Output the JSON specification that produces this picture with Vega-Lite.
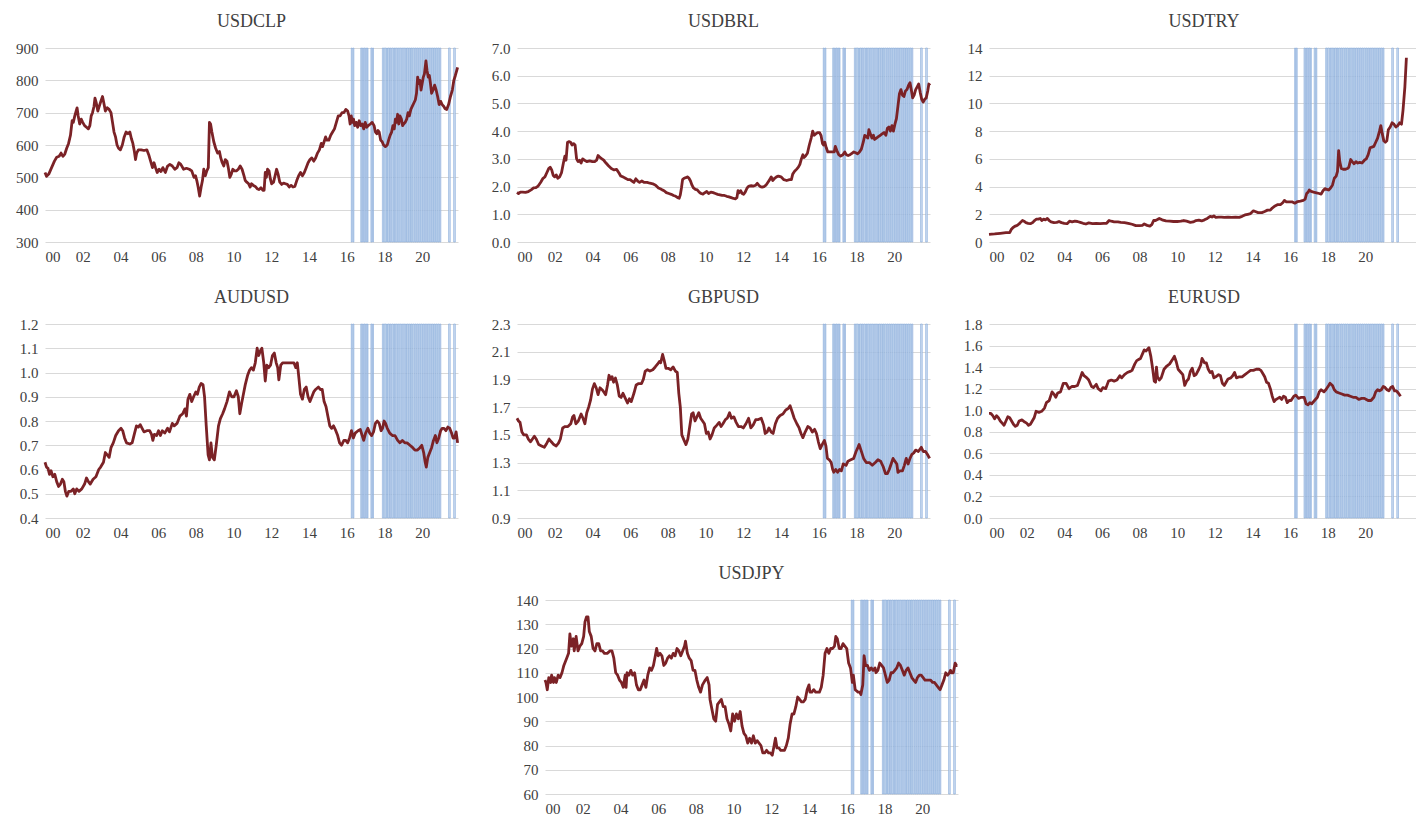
{
"$schema": "https://vega.github.io/schema/vega-lite/v6.json",
"padding": {"left": 15, "top": 13, "right": 0, "bottom": 0},
"background": "white",
"config": {
  "view": {"stroke": null},
  "font": "Liberation Serif",
  "title": {"font": "Liberation Serif", "fontSize": 18, "fontWeight": "normal", "color": "#404040", "offset": 10, "anchor": "middle"},
  "axis": {"labelFont": "Liberation Serif", "labelFontSize": 15, "labelColor": "#404040", "domain": false, "ticks": false},
  "axisY": {"gridColor": "#d9d9d9", "gridWidth": 1, "labelPadding": 7, "minExtent": 30, "maxExtent": 30},
  "axisX": {"grid": false, "labelPadding": 7},
  "rect": {"fill": "#c8d9ef", "fillOpacity": 0.9, "stroke": "#84a9da", "strokeWidth": 0.6},
  "line": {"color": "#7b2226", "strokeWidth": 2.8, "strokeJoin": "round"}
},
"datasets": {
  "shade": [
    {"a":2016.24,"b":2016.29},{"a":2016.33,"b":2016.38},
    {"a":2016.74,"b":2016.80},{"a":2016.83,"b":2016.88},{"a":2016.91,"b":2016.97},{"a":2017.00,"b":2017.06},{"a":2017.09,"b":2017.13},
    {"a":2017.28,"b":2017.34},{"a":2017.37,"b":2017.42},
    {"a":2017.89,"b":2017.96},{"a":2017.99,"b":2018.08},{"a":2018.11,"b":2018.16},{"a":2018.19,"b":2018.27},{"a":2018.30,"b":2018.36},{"a":2018.39,"b":2018.47},{"a":2018.50,"b":2018.55},{"a":2018.58,"b":2018.66},{"a":2018.69,"b":2018.76},{"a":2018.79,"b":2018.87},{"a":2018.90,"b":2018.97},{"a":2019.00,"b":2019.08},{"a":2019.11,"b":2019.17},{"a":2019.20,"b":2019.28},{"a":2019.31,"b":2019.38},{"a":2019.41,"b":2019.47},{"a":2019.50,"b":2019.58},{"a":2019.61,"b":2019.68},{"a":2019.71,"b":2019.78},{"a":2019.81,"b":2019.88},{"a":2019.91,"b":2019.99},{"a":2020.02,"b":2020.09},{"a":2020.12,"b":2020.19},{"a":2020.22,"b":2020.29},{"a":2020.32,"b":2020.40},{"a":2020.43,"b":2020.50},{"a":2020.53,"b":2020.60},{"a":2020.63,"b":2020.70},{"a":2020.73,"b":2020.80},{"a":2020.83,"b":2020.90},{"a":2020.93,"b":2020.99},
    {"a":2021.40,"b":2021.49},{"a":2021.67,"b":2021.76}
  ],
  "clp": [
    {"t":2000.0,"v":515},{"t":2000.08,"v":503},{"t":2000.2,"v":510},{"t":2000.35,"v":530},{"t":2000.5,"v":550},{"t":2000.62,"v":562},{"t":2000.75,"v":565},{"t":2000.85,"v":575},{"t":2000.95,"v":565},{"t":2001.05,"v":572},{"t":2001.15,"v":590},{"t":2001.25,"v":605},{"t":2001.35,"v":630},{"t":2001.44,"v":675},{"t":2001.5,"v":670},{"t":2001.58,"v":690},{"t":2001.65,"v":705},{"t":2001.7,"v":715},{"t":2001.76,"v":690},{"t":2001.84,"v":665},{"t":2001.92,"v":680},{"t":2002.0,"v":670},{"t":2002.1,"v":660},{"t":2002.2,"v":655},{"t":2002.3,"v":650},{"t":2002.38,"v":660},{"t":2002.45,"v":690},{"t":2002.52,"v":700},{"t":2002.6,"v":720},{"t":2002.65,"v":745},{"t":2002.72,"v":730},{"t":2002.8,"v":705},{"t":2002.88,"v":720},{"t":2002.96,"v":735},{"t":2003.05,"v":750},{"t":2003.12,"v":730},{"t":2003.2,"v":705},{"t":2003.3,"v":715},{"t":2003.4,"v":710},{"t":2003.5,"v":700},{"t":2003.58,"v":670},{"t":2003.66,"v":640},{"t":2003.74,"v":625},{"t":2003.82,"v":600},{"t":2003.9,"v":590},{"t":2004.0,"v":585},{"t":2004.1,"v":600},{"t":2004.2,"v":625},{"t":2004.3,"v":640},{"t":2004.4,"v":635},{"t":2004.5,"v":640},{"t":2004.58,"v":620},{"t":2004.66,"v":605},{"t":2004.74,"v":580},{"t":2004.8,"v":555},{"t":2004.86,"v":575},{"t":2004.95,"v":585},{"t":2005.1,"v":585},{"t":2005.25,"v":583},{"t":2005.4,"v":585},{"t":2005.5,"v":570},{"t":2005.6,"v":550},{"t":2005.7,"v":530},{"t":2005.78,"v":545},{"t":2005.86,"v":530},{"t":2005.95,"v":515},{"t":2006.05,"v":525},{"t":2006.15,"v":518},{"t":2006.25,"v":530},{"t":2006.38,"v":515},{"t":2006.5,"v":535},{"t":2006.62,"v":540},{"t":2006.75,"v":535},{"t":2006.88,"v":525},{"t":2007.0,"v":530},{"t":2007.1,"v":545},{"t":2007.2,"v":540},{"t":2007.35,"v":525},{"t":2007.5,"v":528},{"t":2007.65,"v":525},{"t":2007.78,"v":520},{"t":2007.9,"v":500},{"t":2007.98,"v":505},{"t":2008.05,"v":490},{"t":2008.12,"v":470},{"t":2008.2,"v":442},{"t":2008.28,"v":470},{"t":2008.35,"v":490},{"t":2008.42,"v":525},{"t":2008.5,"v":505},{"t":2008.58,"v":520},{"t":2008.66,"v":530},{"t":2008.72,"v":670},{"t":2008.78,"v":665},{"t":2008.85,"v":640},{"t":2008.95,"v":610},{"t":2009.05,"v":590},{"t":2009.15,"v":575},{"t":2009.25,"v":580},{"t":2009.32,"v":560},{"t":2009.4,"v":545},{"t":2009.48,"v":535},{"t":2009.56,"v":555},{"t":2009.65,"v":550},{"t":2009.72,"v":530},{"t":2009.8,"v":500},{"t":2009.88,"v":510},{"t":2009.96,"v":525},{"t":2010.05,"v":520},{"t":2010.15,"v":520},{"t":2010.25,"v":525},{"t":2010.35,"v":535},{"t":2010.45,"v":525},{"t":2010.55,"v":505},{"t":2010.62,"v":490},{"t":2010.7,"v":485},{"t":2010.8,"v":480},{"t":2010.88,"v":470},{"t":2010.95,"v":480},{"t":2011.05,"v":475},{"t":2011.15,"v":472},{"t":2011.25,"v":465},{"t":2011.35,"v":462},{"t":2011.45,"v":468},{"t":2011.55,"v":460},{"t":2011.62,"v":460},{"t":2011.68,"v":515},{"t":2011.74,"v":500},{"t":2011.8,"v":525},{"t":2011.88,"v":520},{"t":2011.95,"v":495},{"t":2012.02,"v":480},{"t":2012.12,"v":485},{"t":2012.2,"v":505},{"t":2012.28,"v":525},{"t":2012.36,"v":510},{"t":2012.45,"v":485},{"t":2012.55,"v":478},{"t":2012.65,"v":482},{"t":2012.75,"v":480},{"t":2012.85,"v":478},{"t":2012.95,"v":470},{"t":2013.05,"v":475},{"t":2013.15,"v":470},{"t":2013.25,"v":472},{"t":2013.35,"v":490},{"t":2013.45,"v":505},{"t":2013.55,"v":515},{"t":2013.65,"v":505},{"t":2013.75,"v":515},{"t":2013.85,"v":530},{"t":2013.95,"v":545},{"t":2014.05,"v":555},{"t":2014.15,"v":560},{"t":2014.25,"v":550},{"t":2014.35,"v":560},{"t":2014.45,"v":575},{"t":2014.55,"v":585},{"t":2014.65,"v":605},{"t":2014.72,"v":595},{"t":2014.8,"v":610},{"t":2014.88,"v":625},{"t":2014.95,"v":615},{"t":2015.05,"v":615},{"t":2015.15,"v":630},{"t":2015.25,"v":640},{"t":2015.35,"v":650},{"t":2015.45,"v":670},{"t":2015.55,"v":690},{"t":2015.65,"v":690},{"t":2015.75,"v":700},{"t":2015.85,"v":700},{"t":2015.95,"v":710},{"t":2016.05,"v":705},{"t":2016.12,"v":690},{"t":2016.18,"v":665},{"t":2016.24,"v":690},{"t":2016.3,"v":670},{"t":2016.36,"v":680},{"t":2016.42,"v":660},{"t":2016.5,"v":670},{"t":2016.58,"v":655},{"t":2016.66,"v":675},{"t":2016.74,"v":660},{"t":2016.82,"v":665},{"t":2016.9,"v":650},{"t":2016.98,"v":670},{"t":2017.06,"v":655},{"t":2017.14,"v":660},{"t":2017.25,"v":665},{"t":2017.35,"v":670},{"t":2017.45,"v":660},{"t":2017.52,"v":640},{"t":2017.6,"v":635},{"t":2017.66,"v":645},{"t":2017.72,"v":640},{"t":2017.8,"v":615},{"t":2017.88,"v":610},{"t":2017.95,"v":600},{"t":2018.05,"v":595},{"t":2018.15,"v":600},{"t":2018.22,"v":615},{"t":2018.3,"v":630},{"t":2018.38,"v":640},{"t":2018.45,"v":660},{"t":2018.52,"v":650},{"t":2018.58,"v":680},{"t":2018.64,"v":670},{"t":2018.7,"v":695},{"t":2018.76,"v":665},{"t":2018.82,"v":690},{"t":2018.9,"v":680},{"t":2018.96,"v":660},{"t":2019.02,"v":665},{"t":2019.1,"v":670},{"t":2019.18,"v":680},{"t":2019.25,"v":700},{"t":2019.32,"v":690},{"t":2019.4,"v":710},{"t":2019.48,"v":720},{"t":2019.56,"v":730},{"t":2019.64,"v":740},{"t":2019.7,"v":760},{"t":2019.76,"v":810},{"t":2019.82,"v":790},{"t":2019.88,"v":800},{"t":2019.94,"v":770},{"t":2020.0,"v":790},{"t":2020.06,"v":810},{"t":2020.12,"v":820},{"t":2020.2,"v":860},{"t":2020.26,"v":830},{"t":2020.32,"v":810},{"t":2020.38,"v":815},{"t":2020.44,"v":790},{"t":2020.5,"v":760},{"t":2020.58,"v":770},{"t":2020.66,"v":785},{"t":2020.74,"v":770},{"t":2020.82,"v":750},{"t":2020.9,"v":725},{"t":2020.98,"v":735},{"t":2021.06,"v":725},{"t":2021.14,"v":720},{"t":2021.22,"v":712},{"t":2021.3,"v":710},{"t":2021.4,"v":725},{"t":2021.5,"v":750},{"t":2021.6,"v":770},{"t":2021.68,"v":800},{"t":2021.76,"v":815},{"t":2021.88,"v":840}
  ],
  "brl": [
    {"t":2000.0,"v":1.79},{"t":2000.08,"v":1.75},{"t":2000.18,"v":1.8},{"t":2000.3,"v":1.8},{"t":2000.45,"v":1.79},{"t":2000.6,"v":1.82},{"t":2000.75,"v":1.88},{"t":2000.88,"v":1.95},{"t":2001.0,"v":1.96},{"t":2001.12,"v":2.02},{"t":2001.25,"v":2.15},{"t":2001.38,"v":2.3},{"t":2001.48,"v":2.35},{"t":2001.58,"v":2.5},{"t":2001.68,"v":2.65},{"t":2001.76,"v":2.7},{"t":2001.84,"v":2.6},{"t":2001.92,"v":2.4},{"t":2002.0,"v":2.35},{"t":2002.08,"v":2.42},{"t":2002.16,"v":2.3},{"t":2002.26,"v":2.35},{"t":2002.36,"v":2.5},{"t":2002.46,"v":2.85},{"t":2002.54,"v":3.1},{"t":2002.6,"v":2.95},{"t":2002.68,"v":3.6},{"t":2002.76,"v":3.62},{"t":2002.84,"v":3.6},{"t":2002.92,"v":3.5},{"t":2003.0,"v":3.55},{"t":2003.08,"v":3.5},{"t":2003.16,"v":3.0},{"t":2003.24,"v":2.9},{"t":2003.32,"v":2.95},{"t":2003.4,"v":2.85},{"t":2003.48,"v":3.0},{"t":2003.58,"v":2.95},{"t":2003.7,"v":2.9},{"t":2003.85,"v":2.93},{"t":2004.0,"v":2.9},{"t":2004.12,"v":2.9},{"t":2004.22,"v":2.95},{"t":2004.3,"v":3.12},{"t":2004.4,"v":3.05},{"t":2004.5,"v":3.0},{"t":2004.6,"v":2.95},{"t":2004.72,"v":2.85},{"t":2004.85,"v":2.75},{"t":2005.0,"v":2.65},{"t":2005.15,"v":2.6},{"t":2005.28,"v":2.62},{"t":2005.4,"v":2.5},{"t":2005.5,"v":2.38},{"t":2005.62,"v":2.35},{"t":2005.75,"v":2.3},{"t":2005.88,"v":2.25},{"t":2006.0,"v":2.25},{"t":2006.1,"v":2.2},{"t":2006.2,"v":2.15},{"t":2006.3,"v":2.28},{"t":2006.4,"v":2.2},{"t":2006.5,"v":2.15},{"t":2006.62,"v":2.2},{"t":2006.75,"v":2.15},{"t":2006.9,"v":2.15},{"t":2007.05,"v":2.12},{"t":2007.2,"v":2.1},{"t":2007.35,"v":2.05},{"t":2007.5,"v":1.95},{"t":2007.6,"v":1.92},{"t":2007.7,"v":1.88},{"t":2007.8,"v":1.85},{"t":2007.92,"v":1.78},{"t":2008.05,"v":1.75},{"t":2008.18,"v":1.72},{"t":2008.3,"v":1.68},{"t":2008.42,"v":1.65},{"t":2008.52,"v":1.6},{"t":2008.6,"v":1.58},{"t":2008.66,"v":1.7},{"t":2008.72,"v":1.95},{"t":2008.78,"v":2.25},{"t":2008.86,"v":2.3},{"t":2008.95,"v":2.32},{"t":2009.05,"v":2.35},{"t":2009.12,"v":2.3},{"t":2009.2,"v":2.2},{"t":2009.28,"v":2.05},{"t":2009.36,"v":1.95},{"t":2009.46,"v":1.9},{"t":2009.56,"v":1.88},{"t":2009.66,"v":1.8},{"t":2009.76,"v":1.75},{"t":2009.86,"v":1.73},{"t":2009.96,"v":1.78},{"t":2010.06,"v":1.82},{"t":2010.16,"v":1.75},{"t":2010.28,"v":1.8},{"t":2010.4,"v":1.78},{"t":2010.52,"v":1.75},{"t":2010.64,"v":1.72},{"t":2010.76,"v":1.7},{"t":2010.88,"v":1.68},{"t":2011.0,"v":1.68},{"t":2011.12,"v":1.65},{"t":2011.24,"v":1.63},{"t":2011.36,"v":1.6},{"t":2011.48,"v":1.57},{"t":2011.58,"v":1.56},{"t":2011.66,"v":1.6},{"t":2011.72,"v":1.85},{"t":2011.78,"v":1.78},{"t":2011.86,"v":1.85},{"t":2011.94,"v":1.75},{"t":2012.02,"v":1.72},{"t":2012.1,"v":1.8},{"t":2012.2,"v":1.95},{"t":2012.3,"v":2.02},{"t":2012.42,"v":2.03},{"t":2012.55,"v":2.02},{"t":2012.66,"v":2.05},{"t":2012.74,"v":2.12},{"t":2012.82,"v":2.05},{"t":2012.9,"v":2.0},{"t":2013.0,"v":1.98},{"t":2013.1,"v":2.0},{"t":2013.2,"v":2.05},{"t":2013.3,"v":2.15},{"t":2013.4,"v":2.25},{"t":2013.48,"v":2.35},{"t":2013.56,"v":2.22},{"t":2013.66,"v":2.3},{"t":2013.76,"v":2.35},{"t":2013.86,"v":2.38},{"t":2014.0,"v":2.35},{"t":2014.15,"v":2.25},{"t":2014.3,"v":2.22},{"t":2014.45,"v":2.25},{"t":2014.55,"v":2.25},{"t":2014.62,"v":2.45},{"t":2014.72,"v":2.55},{"t":2014.82,"v":2.62},{"t":2014.92,"v":2.7},{"t":2015.0,"v":2.8},{"t":2015.08,"v":3.0},{"t":2015.16,"v":3.15},{"t":2015.22,"v":3.05},{"t":2015.3,"v":3.1},{"t":2015.4,"v":3.2},{"t":2015.5,"v":3.5},{"t":2015.6,"v":3.75},{"t":2015.68,"v":4.0},{"t":2015.76,"v":3.85},{"t":2015.84,"v":3.9},{"t":2015.94,"v":3.95},{"t":2016.04,"v":3.95},{"t":2016.12,"v":3.85},{"t":2016.2,"v":3.55},{"t":2016.26,"v":3.5},{"t":2016.32,"v":3.6},{"t":2016.4,"v":3.4},{"t":2016.48,"v":3.25},{"t":2016.6,"v":3.25},{"t":2016.72,"v":3.25},{"t":2016.82,"v":3.25},{"t":2016.88,"v":3.45},{"t":2016.96,"v":3.3},{"t":2017.06,"v":3.15},{"t":2017.16,"v":3.1},{"t":2017.28,"v":3.15},{"t":2017.38,"v":3.25},{"t":2017.46,"v":3.15},{"t":2017.56,"v":3.12},{"t":2017.66,"v":3.15},{"t":2017.76,"v":3.2},{"t":2017.86,"v":3.25},{"t":2017.96,"v":3.22},{"t":2018.06,"v":3.18},{"t":2018.16,"v":3.25},{"t":2018.26,"v":3.35},{"t":2018.36,"v":3.6},{"t":2018.44,"v":3.85},{"t":2018.52,"v":3.8},{"t":2018.6,"v":3.75},{"t":2018.66,"v":4.05},{"t":2018.74,"v":3.9},{"t":2018.82,"v":3.75},{"t":2018.9,"v":3.85},{"t":2018.96,"v":3.7},{"t":2019.06,"v":3.75},{"t":2019.16,"v":3.8},{"t":2019.26,"v":3.85},{"t":2019.36,"v":3.9},{"t":2019.46,"v":3.95},{"t":2019.56,"v":3.85},{"t":2019.64,"v":4.1},{"t":2019.72,"v":4.15},{"t":2019.8,"v":4.0},{"t":2019.88,"v":4.2},{"t":2019.96,"v":4.0},{"t":2020.04,"v":4.25},{"t":2020.12,"v":4.45},{"t":2020.2,"v":4.9},{"t":2020.28,"v":5.35},{"t":2020.36,"v":5.5},{"t":2020.44,"v":5.3},{"t":2020.52,"v":5.25},{"t":2020.6,"v":5.45},{"t":2020.68,"v":5.5},{"t":2020.76,"v":5.65},{"t":2020.84,"v":5.75},{"t":2020.92,"v":5.45},{"t":2020.98,"v":5.2},{"t":2021.06,"v":5.3},{"t":2021.14,"v":5.5},{"t":2021.22,"v":5.6},{"t":2021.3,"v":5.7},{"t":2021.38,"v":5.4},{"t":2021.46,"v":5.15},{"t":2021.54,"v":5.05},{"t":2021.62,"v":5.15},{"t":2021.7,"v":5.2},{"t":2021.78,"v":5.45},{"t":2021.84,"v":5.7},{"t":2021.9,"v":5.65}
  ],
  "try": [
    {"t":2000.0,"v":0.55},{"t":2000.3,"v":0.58},{"t":2000.6,"v":0.63},{"t":2000.9,"v":0.67},{"t":2001.1,"v":0.68},{"t":2001.18,"v":0.9},{"t":2001.28,"v":1.05},{"t":2001.4,"v":1.15},{"t":2001.5,"v":1.2},{"t":2001.6,"v":1.3},{"t":2001.7,"v":1.45},{"t":2001.78,"v":1.55},{"t":2001.86,"v":1.5},{"t":2001.96,"v":1.4},{"t":2002.08,"v":1.35},{"t":2002.2,"v":1.32},{"t":2002.32,"v":1.4},{"t":2002.42,"v":1.55},{"t":2002.52,"v":1.65},{"t":2002.62,"v":1.65},{"t":2002.72,"v":1.7},{"t":2002.8,"v":1.55},{"t":2002.9,"v":1.65},{"t":2003.0,"v":1.6},{"t":2003.1,"v":1.7},{"t":2003.2,"v":1.55},{"t":2003.3,"v":1.45},{"t":2003.45,"v":1.4},{"t":2003.6,"v":1.42},{"t":2003.72,"v":1.48},{"t":2003.85,"v":1.4},{"t":2004.0,"v":1.35},{"t":2004.15,"v":1.32},{"t":2004.28,"v":1.5},{"t":2004.42,"v":1.45},{"t":2004.56,"v":1.5},{"t":2004.7,"v":1.48},{"t":2004.85,"v":1.42},{"t":2005.0,"v":1.35},{"t":2005.15,"v":1.3},{"t":2005.3,"v":1.38},{"t":2005.5,"v":1.33},{"t":2005.7,"v":1.35},{"t":2005.9,"v":1.33},{"t":2006.1,"v":1.35},{"t":2006.25,"v":1.35},{"t":2006.38,"v":1.55},{"t":2006.5,"v":1.5},{"t":2006.65,"v":1.45},{"t":2006.85,"v":1.45},{"t":2007.0,"v":1.42},{"t":2007.2,"v":1.4},{"t":2007.4,"v":1.35},{"t":2007.6,"v":1.28},{"t":2007.8,"v":1.18},{"t":2008.0,"v":1.18},{"t":2008.15,"v":1.2},{"t":2008.25,"v":1.3},{"t":2008.4,"v":1.2},{"t":2008.55,"v":1.15},{"t":2008.65,"v":1.25},{"t":2008.75,"v":1.55},{"t":2008.85,"v":1.55},{"t":2008.95,"v":1.62},{"t":2009.05,"v":1.7},{"t":2009.2,"v":1.6},{"t":2009.4,"v":1.52},{"t":2009.6,"v":1.5},{"t":2009.8,"v":1.48},{"t":2010.0,"v":1.48},{"t":2010.2,"v":1.5},{"t":2010.35,"v":1.55},{"t":2010.5,"v":1.5},{"t":2010.7,"v":1.42},{"t":2010.85,"v":1.45},{"t":2011.0,"v":1.55},{"t":2011.15,"v":1.58},{"t":2011.3,"v":1.52},{"t":2011.45,"v":1.6},{"t":2011.6,"v":1.7},{"t":2011.75,"v":1.85},{"t":2011.85,"v":1.8},{"t":2011.95,"v":1.88},{"t":2012.05,"v":1.78},{"t":2012.2,"v":1.8},{"t":2012.35,"v":1.8},{"t":2012.5,"v":1.78},{"t":2012.7,"v":1.8},{"t":2012.9,"v":1.78},{"t":2013.1,"v":1.8},{"t":2013.3,"v":1.78},{"t":2013.45,"v":1.85},{"t":2013.6,"v":1.95},{"t":2013.75,"v":2.0},{"t":2013.9,"v":2.05},{"t":2014.05,"v":2.25},{"t":2014.15,"v":2.2},{"t":2014.3,"v":2.12},{"t":2014.5,"v":2.12},{"t":2014.65,"v":2.2},{"t":2014.8,"v":2.3},{"t":2014.95,"v":2.3},{"t":2015.05,"v":2.45},{"t":2015.2,"v":2.6},{"t":2015.35,"v":2.7},{"t":2015.5,"v":2.7},{"t":2015.62,"v":2.85},{"t":2015.7,"v":3.0},{"t":2015.8,"v":2.9},{"t":2015.95,"v":2.9},{"t":2016.1,"v":2.9},{"t":2016.25,"v":2.8},{"t":2016.4,"v":2.92},{"t":2016.55,"v":2.95},{"t":2016.7,"v":3.0},{"t":2016.8,"v":3.1},{"t":2016.88,"v":3.5},{"t":2016.96,"v":3.6},{"t":2017.02,"v":3.75},{"t":2017.12,"v":3.65},{"t":2017.25,"v":3.6},{"t":2017.4,"v":3.55},{"t":2017.55,"v":3.5},{"t":2017.65,"v":3.45},{"t":2017.75,"v":3.7},{"t":2017.85,"v":3.85},{"t":2017.95,"v":3.8},{"t":2018.05,"v":3.75},{"t":2018.15,"v":3.9},{"t":2018.25,"v":4.1},{"t":2018.35,"v":4.6},{"t":2018.45,"v":4.75},{"t":2018.52,"v":5.1},{"t":2018.58,"v":6.6},{"t":2018.64,"v":5.8},{"t":2018.72,"v":5.3},{"t":2018.82,"v":5.25},{"t":2018.95,"v":5.25},{"t":2019.05,"v":5.3},{"t":2019.12,"v":5.4},{"t":2019.22,"v":5.95},{"t":2019.3,"v":5.8},{"t":2019.4,"v":5.65},{"t":2019.5,"v":5.8},{"t":2019.6,"v":5.7},{"t":2019.7,"v":5.75},{"t":2019.82,"v":5.7},{"t":2019.95,"v":5.9},{"t":2020.05,"v":6.0},{"t":2020.15,"v":6.3},{"t":2020.25,"v":6.8},{"t":2020.35,"v":6.85},{"t":2020.45,"v":6.9},{"t":2020.55,"v":7.2},{"t":2020.65,"v":7.5},{"t":2020.75,"v":8.0},{"t":2020.82,"v":8.4},{"t":2020.9,"v":7.8},{"t":2020.98,"v":7.3},{"t":2021.06,"v":7.2},{"t":2021.14,"v":7.3},{"t":2021.22,"v":8.1},{"t":2021.32,"v":8.3},{"t":2021.42,"v":8.6},{"t":2021.52,"v":8.5},{"t":2021.62,"v":8.3},{"t":2021.72,"v":8.4},{"t":2021.82,"v":8.6},{"t":2021.92,"v":8.5},{"t":2022.0,"v":9.5},{"t":2022.1,"v":11.2},{"t":2022.18,"v":13.3}
  ],
  "aud": [
    {"t":2000.0,"v":0.63},{"t":2000.08,"v":0.61},{"t":2000.16,"v":0.605},{"t":2000.24,"v":0.58},{"t":2000.32,"v":0.595},{"t":2000.42,"v":0.57},{"t":2000.52,"v":0.58},{"t":2000.62,"v":0.55},{"t":2000.72,"v":0.53},{"t":2000.82,"v":0.54},{"t":2000.92,"v":0.56},{"t":2001.0,"v":0.55},{"t":2001.08,"v":0.51},{"t":2001.16,"v":0.49},{"t":2001.26,"v":0.51},{"t":2001.38,"v":0.51},{"t":2001.5,"v":0.52},{"t":2001.58,"v":0.50},{"t":2001.68,"v":0.52},{"t":2001.8,"v":0.51},{"t":2001.95,"v":0.52},{"t":2002.1,"v":0.54},{"t":2002.2,"v":0.565},{"t":2002.3,"v":0.55},{"t":2002.4,"v":0.54},{"t":2002.55,"v":0.56},{"t":2002.7,"v":0.57},{"t":2002.85,"v":0.6},{"t":2002.95,"v":0.61},{"t":2003.1,"v":0.63},{"t":2003.2,"v":0.67},{"t":2003.3,"v":0.66},{"t":2003.4,"v":0.65},{"t":2003.5,"v":0.69},{"t":2003.62,"v":0.71},{"t":2003.75,"v":0.74},{"t":2003.9,"v":0.76},{"t":2004.03,"v":0.77},{"t":2004.12,"v":0.76},{"t":2004.22,"v":0.73},{"t":2004.32,"v":0.71},{"t":2004.5,"v":0.705},{"t":2004.62,"v":0.71},{"t":2004.75,"v":0.75},{"t":2004.85,"v":0.78},{"t":2004.95,"v":0.775},{"t":2005.05,"v":0.785},{"t":2005.15,"v":0.77},{"t":2005.25,"v":0.755},{"t":2005.4,"v":0.76},{"t":2005.55,"v":0.76},{"t":2005.65,"v":0.745},{"t":2005.72,"v":0.72},{"t":2005.8,"v":0.745},{"t":2005.92,"v":0.74},{"t":2006.02,"v":0.76},{"t":2006.12,"v":0.74},{"t":2006.22,"v":0.76},{"t":2006.35,"v":0.75},{"t":2006.5,"v":0.77},{"t":2006.6,"v":0.755},{"t":2006.75,"v":0.79},{"t":2006.85,"v":0.78},{"t":2007.0,"v":0.79},{"t":2007.15,"v":0.82},{"t":2007.3,"v":0.83},{"t":2007.42,"v":0.85},{"t":2007.5,"v":0.82},{"t":2007.58,"v":0.89},{"t":2007.68,"v":0.91},{"t":2007.78,"v":0.88},{"t":2007.88,"v":0.9},{"t":2008.0,"v":0.92},{"t":2008.08,"v":0.91},{"t":2008.18,"v":0.94},{"t":2008.28,"v":0.955},{"t":2008.38,"v":0.95},{"t":2008.46,"v":0.9},{"t":2008.55,"v":0.78},{"t":2008.65,"v":0.66},{"t":2008.72,"v":0.64},{"t":2008.8,"v":0.71},{"t":2008.88,"v":0.65},{"t":2008.98,"v":0.64},{"t":2009.08,"v":0.7},{"t":2009.2,"v":0.78},{"t":2009.3,"v":0.81},{"t":2009.42,"v":0.83},{"t":2009.52,"v":0.85},{"t":2009.65,"v":0.88},{"t":2009.78,"v":0.92},{"t":2009.9,"v":0.9},{"t":2010.02,"v":0.9},{"t":2010.15,"v":0.925},{"t":2010.25,"v":0.9},{"t":2010.33,"v":0.83},{"t":2010.42,"v":0.87},{"t":2010.52,"v":0.91},{"t":2010.62,"v":0.95},{"t":2010.75,"v":0.99},{"t":2010.85,"v":1.01},{"t":2010.95,"v":1.02},{"t":2011.05,"v":1.01},{"t":2011.15,"v":1.04},{"t":2011.25,"v":1.1},{"t":2011.33,"v":1.07},{"t":2011.42,"v":1.09},{"t":2011.5,"v":1.1},{"t":2011.6,"v":1.04},{"t":2011.68,"v":0.965},{"t":2011.76,"v":1.03},{"t":2011.86,"v":1.02},{"t":2011.96,"v":1.03},{"t":2012.06,"v":1.07},{"t":2012.16,"v":1.08},{"t":2012.26,"v":1.04},{"t":2012.34,"v":1.02},{"t":2012.4,"v":0.97},{"t":2012.5,"v":1.03},{"t":2012.6,"v":1.04},{"t":2012.75,"v":1.04},{"t":2012.9,"v":1.04},{"t":2013.05,"v":1.04},{"t":2013.2,"v":1.04},{"t":2013.3,"v":1.02},{"t":2013.38,"v":1.04},{"t":2013.46,"v":0.98},{"t":2013.55,"v":0.91},{"t":2013.65,"v":0.89},{"t":2013.75,"v":0.93},{"t":2013.85,"v":0.94},{"t":2013.95,"v":0.9},{"t":2014.05,"v":0.88},{"t":2014.15,"v":0.9},{"t":2014.25,"v":0.92},{"t":2014.35,"v":0.93},{"t":2014.5,"v":0.94},{"t":2014.6,"v":0.93},{"t":2014.7,"v":0.93},{"t":2014.8,"v":0.88},{"t":2014.9,"v":0.86},{"t":2015.0,"v":0.82},{"t":2015.1,"v":0.78},{"t":2015.2,"v":0.77},{"t":2015.3,"v":0.78},{"t":2015.42,"v":0.76},{"t":2015.52,"v":0.74},{"t":2015.62,"v":0.71},{"t":2015.72,"v":0.7},{"t":2015.85,"v":0.72},{"t":2015.95,"v":0.72},{"t":2016.05,"v":0.71},{"t":2016.15,"v":0.73},{"t":2016.25,"v":0.76},{"t":2016.35,"v":0.73},{"t":2016.45,"v":0.75},{"t":2016.6,"v":0.76},{"t":2016.72,"v":0.765},{"t":2016.82,"v":0.74},{"t":2016.9,"v":0.72},{"t":2017.0,"v":0.75},{"t":2017.12,"v":0.77},{"t":2017.22,"v":0.75},{"t":2017.32,"v":0.74},{"t":2017.42,"v":0.755},{"t":2017.52,"v":0.79},{"t":2017.62,"v":0.8},{"t":2017.72,"v":0.79},{"t":2017.82,"v":0.76},{"t":2017.9,"v":0.77},{"t":2017.98,"v":0.8},{"t":2018.06,"v":0.79},{"t":2018.15,"v":0.77},{"t":2018.28,"v":0.75},{"t":2018.42,"v":0.74},{"t":2018.56,"v":0.74},{"t":2018.7,"v":0.72},{"t":2018.82,"v":0.71},{"t":2018.95,"v":0.72},{"t":2019.08,"v":0.71},{"t":2019.2,"v":0.71},{"t":2019.35,"v":0.7},{"t":2019.5,"v":0.69},{"t":2019.62,"v":0.68},{"t":2019.75,"v":0.68},{"t":2019.88,"v":0.69},{"t":2019.98,"v":0.7},{"t":2020.08,"v":0.67},{"t":2020.16,"v":0.63},{"t":2020.22,"v":0.61},{"t":2020.3,"v":0.65},{"t":2020.4,"v":0.67},{"t":2020.5,"v":0.69},{"t":2020.6,"v":0.72},{"t":2020.7,"v":0.74},{"t":2020.78,"v":0.71},{"t":2020.88,"v":0.73},{"t":2020.98,"v":0.76},{"t":2021.06,"v":0.77},{"t":2021.16,"v":0.77},{"t":2021.26,"v":0.76},{"t":2021.36,"v":0.775},{"t":2021.46,"v":0.77},{"t":2021.56,"v":0.75},{"t":2021.64,"v":0.73},{"t":2021.72,"v":0.73},{"t":2021.8,"v":0.755},{"t":2021.88,"v":0.71}
  ],
  "gbp": [
    {"t":2000.0,"v":1.62},{"t":2000.08,"v":1.6},{"t":2000.16,"v":1.59},{"t":2000.26,"v":1.52},{"t":2000.36,"v":1.5},{"t":2000.5,"v":1.5},{"t":2000.6,"v":1.47},{"t":2000.72,"v":1.45},{"t":2000.82,"v":1.47},{"t":2000.92,"v":1.49},{"t":2001.02,"v":1.47},{"t":2001.15,"v":1.43},{"t":2001.3,"v":1.42},{"t":2001.45,"v":1.41},{"t":2001.58,"v":1.44},{"t":2001.7,"v":1.47},{"t":2001.82,"v":1.45},{"t":2001.95,"v":1.43},{"t":2002.08,"v":1.42},{"t":2002.2,"v":1.44},{"t":2002.3,"v":1.47},{"t":2002.42,"v":1.55},{"t":2002.55,"v":1.56},{"t":2002.7,"v":1.56},{"t":2002.85,"v":1.58},{"t":2002.95,"v":1.63},{"t":2003.02,"v":1.64},{"t":2003.12,"v":1.58},{"t":2003.25,"v":1.6},{"t":2003.4,"v":1.65},{"t":2003.5,"v":1.62},{"t":2003.6,"v":1.58},{"t":2003.7,"v":1.66},{"t":2003.8,"v":1.7},{"t":2003.9,"v":1.75},{"t":2004.0,"v":1.83},{"t":2004.1,"v":1.87},{"t":2004.2,"v":1.84},{"t":2004.3,"v":1.79},{"t":2004.4,"v":1.84},{"t":2004.55,"v":1.82},{"t":2004.7,"v":1.79},{"t":2004.8,"v":1.86},{"t":2004.88,"v":1.93},{"t":2004.96,"v":1.9},{"t":2005.04,"v":1.92},{"t":2005.12,"v":1.88},{"t":2005.22,"v":1.91},{"t":2005.32,"v":1.86},{"t":2005.42,"v":1.78},{"t":2005.52,"v":1.77},{"t":2005.62,"v":1.8},{"t":2005.72,"v":1.77},{"t":2005.86,"v":1.73},{"t":2005.96,"v":1.76},{"t":2006.06,"v":1.74},{"t":2006.2,"v":1.8},{"t":2006.32,"v":1.86},{"t":2006.45,"v":1.87},{"t":2006.6,"v":1.87},{"t":2006.7,"v":1.9},{"t":2006.8,"v":1.96},{"t":2006.92,"v":1.97},{"t":2007.05,"v":1.96},{"t":2007.2,"v":1.97},{"t":2007.33,"v":1.99},{"t":2007.45,"v":2.01},{"t":2007.55,"v":2.03},{"t":2007.62,"v":2.02},{"t":2007.72,"v":2.08},{"t":2007.8,"v":2.04},{"t":2007.9,"v":1.98},{"t":2008.02,"v":1.98},{"t":2008.15,"v":1.97},{"t":2008.28,"v":1.99},{"t":2008.4,"v":1.96},{"t":2008.5,"v":1.95},{"t":2008.58,"v":1.8},{"t":2008.66,"v":1.7},{"t":2008.74,"v":1.5},{"t":2008.86,"v":1.46},{"t":2008.96,"v":1.43},{"t":2009.06,"v":1.47},{"t":2009.16,"v":1.56},{"t":2009.26,"v":1.65},{"t":2009.34,"v":1.66},{"t":2009.44,"v":1.6},{"t":2009.54,"v":1.63},{"t":2009.64,"v":1.66},{"t":2009.74,"v":1.62},{"t":2009.84,"v":1.6},{"t":2009.94,"v":1.58},{"t":2010.04,"v":1.51},{"t":2010.14,"v":1.52},{"t":2010.24,"v":1.47},{"t":2010.34,"v":1.5},{"t":2010.46,"v":1.55},{"t":2010.6,"v":1.57},{"t":2010.72,"v":1.59},{"t":2010.82,"v":1.56},{"t":2010.92,"v":1.58},{"t":2011.05,"v":1.61},{"t":2011.15,"v":1.62},{"t":2011.27,"v":1.66},{"t":2011.37,"v":1.62},{"t":2011.5,"v":1.63},{"t":2011.62,"v":1.59},{"t":2011.74,"v":1.56},{"t":2011.88,"v":1.56},{"t":2012.0,"v":1.55},{"t":2012.14,"v":1.58},{"t":2012.28,"v":1.62},{"t":2012.4,"v":1.55},{"t":2012.52,"v":1.57},{"t":2012.66,"v":1.61},{"t":2012.8,"v":1.61},{"t":2012.95,"v":1.62},{"t":2013.08,"v":1.57},{"t":2013.16,"v":1.51},{"t":2013.26,"v":1.52},{"t":2013.36,"v":1.55},{"t":2013.48,"v":1.52},{"t":2013.58,"v":1.51},{"t":2013.7,"v":1.58},{"t":2013.82,"v":1.62},{"t":2013.95,"v":1.64},{"t":2014.1,"v":1.65},{"t":2014.25,"v":1.68},{"t":2014.38,"v":1.69},{"t":2014.48,"v":1.71},{"t":2014.58,"v":1.67},{"t":2014.7,"v":1.62},{"t":2014.84,"v":1.58},{"t":2014.96,"v":1.55},{"t":2015.06,"v":1.51},{"t":2015.16,"v":1.48},{"t":2015.28,"v":1.52},{"t":2015.42,"v":1.56},{"t":2015.54,"v":1.55},{"t":2015.66,"v":1.52},{"t":2015.78,"v":1.54},{"t":2015.88,"v":1.51},{"t":2015.98,"v":1.45},{"t":2016.08,"v":1.4},{"t":2016.18,"v":1.43},{"t":2016.3,"v":1.46},{"t":2016.38,"v":1.42},{"t":2016.46,"v":1.33},{"t":2016.56,"v":1.32},{"t":2016.66,"v":1.3},{"t":2016.74,"v":1.25},{"t":2016.8,"v":1.23},{"t":2016.9,"v":1.25},{"t":2017.0,"v":1.23},{"t":2017.1,"v":1.25},{"t":2017.2,"v":1.24},{"t":2017.3,"v":1.29},{"t":2017.45,"v":1.28},{"t":2017.55,"v":1.31},{"t":2017.7,"v":1.32},{"t":2017.85,"v":1.33},{"t":2017.98,"v":1.38},{"t":2018.08,"v":1.41},{"t":2018.14,"v":1.43},{"t":2018.24,"v":1.39},{"t":2018.38,"v":1.33},{"t":2018.52,"v":1.3},{"t":2018.68,"v":1.3},{"t":2018.84,"v":1.28},{"t":2019.0,"v":1.3},{"t":2019.14,"v":1.32},{"t":2019.28,"v":1.31},{"t":2019.42,"v":1.27},{"t":2019.54,"v":1.22},{"t":2019.64,"v":1.22},{"t":2019.74,"v":1.25},{"t":2019.84,"v":1.29},{"t":2019.94,"v":1.33},{"t":2020.04,"v":1.31},{"t":2020.14,"v":1.29},{"t":2020.2,"v":1.23},{"t":2020.3,"v":1.24},{"t":2020.44,"v":1.24},{"t":2020.54,"v":1.28},{"t":2020.64,"v":1.33},{"t":2020.74,"v":1.29},{"t":2020.84,"v":1.33},{"t":2020.94,"v":1.36},{"t":2021.04,"v":1.37},{"t":2021.14,"v":1.39},{"t":2021.28,"v":1.38},{"t":2021.44,"v":1.41},{"t":2021.54,"v":1.38},{"t":2021.66,"v":1.38},{"t":2021.76,"v":1.36},{"t":2021.88,"v":1.33}
  ],
  "eur": [
    {"t":2000.0,"v":0.97},{"t":2000.1,"v":0.97},{"t":2000.2,"v":0.95},{"t":2000.3,"v":0.92},{"t":2000.4,"v":0.95},{"t":2000.5,"v":0.93},{"t":2000.6,"v":0.9},{"t":2000.7,"v":0.88},{"t":2000.8,"v":0.86},{"t":2000.9,"v":0.9},{"t":2001.0,"v":0.94},{"t":2001.1,"v":0.93},{"t":2001.2,"v":0.9},{"t":2001.3,"v":0.87},{"t":2001.4,"v":0.85},{"t":2001.5,"v":0.86},{"t":2001.6,"v":0.9},{"t":2001.75,"v":0.91},{"t":2001.9,"v":0.89},{"t":2002.0,"v":0.88},{"t":2002.1,"v":0.86},{"t":2002.2,"v":0.87},{"t":2002.3,"v":0.9},{"t":2002.4,"v":0.93},{"t":2002.5,"v":0.99},{"t":2002.65,"v":0.98},{"t":2002.8,"v":0.99},{"t":2002.95,"v":1.02},{"t":2003.05,"v":1.07},{"t":2003.2,"v":1.09},{"t":2003.35,"v":1.17},{"t":2003.45,"v":1.15},{"t":2003.55,"v":1.12},{"t":2003.65,"v":1.16},{"t":2003.8,"v":1.17},{"t":2003.95,"v":1.25},{"t":2004.1,"v":1.25},{"t":2004.25,"v":1.2},{"t":2004.4,"v":1.22},{"t":2004.55,"v":1.22},{"t":2004.7,"v":1.23},{"t":2004.85,"v":1.3},{"t":2004.95,"v":1.35},{"t":2005.05,"v":1.32},{"t":2005.2,"v":1.3},{"t":2005.3,"v":1.28},{"t":2005.45,"v":1.22},{"t":2005.55,"v":1.21},{"t":2005.7,"v":1.24},{"t":2005.8,"v":1.2},{"t":2005.95,"v":1.18},{"t":2006.05,"v":1.21},{"t":2006.2,"v":1.2},{"t":2006.35,"v":1.27},{"t":2006.5,"v":1.28},{"t":2006.65,"v":1.27},{"t":2006.8,"v":1.28},{"t":2006.95,"v":1.32},{"t":2007.05,"v":1.3},{"t":2007.2,"v":1.33},{"t":2007.35,"v":1.35},{"t":2007.5,"v":1.36},{"t":2007.6,"v":1.37},{"t":2007.75,"v":1.43},{"t":2007.85,"v":1.46},{"t":2007.95,"v":1.47},{"t":2008.05,"v":1.48},{"t":2008.15,"v":1.52},{"t":2008.25,"v":1.56},{"t":2008.35,"v":1.55},{"t":2008.45,"v":1.57},{"t":2008.5,"v":1.58},{"t":2008.6,"v":1.5},{"t":2008.7,"v":1.38},{"t":2008.78,"v":1.27},{"t":2008.85,"v":1.26},{"t":2008.9,"v":1.4},{"t":2008.95,"v":1.31},{"t":2009.05,"v":1.28},{"t":2009.15,"v":1.3},{"t":2009.3,"v":1.38},{"t":2009.45,"v":1.41},{"t":2009.6,"v":1.43},{"t":2009.75,"v":1.47},{"t":2009.85,"v":1.5},{"t":2009.95,"v":1.45},{"t":2010.05,"v":1.38},{"t":2010.2,"v":1.35},{"t":2010.3,"v":1.33},{"t":2010.4,"v":1.23},{"t":2010.5,"v":1.27},{"t":2010.6,"v":1.29},{"t":2010.7,"v":1.36},{"t":2010.8,"v":1.39},{"t":2010.9,"v":1.32},{"t":2011.0,"v":1.33},{"t":2011.15,"v":1.38},{"t":2011.25,"v":1.42},{"t":2011.32,"v":1.48},{"t":2011.45,"v":1.44},{"t":2011.55,"v":1.44},{"t":2011.65,"v":1.38},{"t":2011.75,"v":1.35},{"t":2011.85,"v":1.36},{"t":2011.95,"v":1.3},{"t":2012.05,"v":1.31},{"t":2012.2,"v":1.33},{"t":2012.3,"v":1.32},{"t":2012.4,"v":1.25},{"t":2012.5,"v":1.23},{"t":2012.6,"v":1.26},{"t":2012.7,"v":1.29},{"t":2012.85,"v":1.3},{"t":2012.95,"v":1.32},{"t":2013.05,"v":1.35},{"t":2013.15,"v":1.3},{"t":2013.3,"v":1.31},{"t":2013.45,"v":1.31},{"t":2013.6,"v":1.33},{"t":2013.75,"v":1.35},{"t":2013.9,"v":1.37},{"t":2014.05,"v":1.37},{"t":2014.2,"v":1.38},{"t":2014.35,"v":1.38},{"t":2014.45,"v":1.37},{"t":2014.55,"v":1.34},{"t":2014.65,"v":1.31},{"t":2014.75,"v":1.26},{"t":2014.85,"v":1.25},{"t":2014.95,"v":1.2},{"t":2015.05,"v":1.13},{"t":2015.15,"v":1.08},{"t":2015.25,"v":1.1},{"t":2015.35,"v":1.11},{"t":2015.45,"v":1.12},{"t":2015.55,"v":1.1},{"t":2015.65,"v":1.13},{"t":2015.75,"v":1.12},{"t":2015.85,"v":1.07},{"t":2015.95,"v":1.09},{"t":2016.05,"v":1.09},{"t":2016.2,"v":1.13},{"t":2016.3,"v":1.14},{"t":2016.45,"v":1.11},{"t":2016.6,"v":1.12},{"t":2016.75,"v":1.12},{"t":2016.85,"v":1.06},{"t":2016.95,"v":1.05},{"t":2017.05,"v":1.07},{"t":2017.15,"v":1.06},{"t":2017.3,"v":1.09},{"t":2017.45,"v":1.12},{"t":2017.55,"v":1.17},{"t":2017.65,"v":1.19},{"t":2017.8,"v":1.17},{"t":2017.9,"v":1.19},{"t":2018.05,"v":1.23},{"t":2018.12,"v":1.25},{"t":2018.25,"v":1.23},{"t":2018.35,"v":1.19},{"t":2018.45,"v":1.17},{"t":2018.6,"v":1.16},{"t":2018.75,"v":1.15},{"t":2018.9,"v":1.14},{"t":2019.05,"v":1.14},{"t":2019.2,"v":1.13},{"t":2019.35,"v":1.12},{"t":2019.5,"v":1.12},{"t":2019.65,"v":1.1},{"t":2019.8,"v":1.11},{"t":2019.95,"v":1.11},{"t":2020.05,"v":1.1},{"t":2020.15,"v":1.09},{"t":2020.3,"v":1.09},{"t":2020.45,"v":1.12},{"t":2020.55,"v":1.17},{"t":2020.65,"v":1.19},{"t":2020.75,"v":1.18},{"t":2020.85,"v":1.19},{"t":2020.95,"v":1.22},{"t":2021.05,"v":1.21},{"t":2021.15,"v":1.19},{"t":2021.25,"v":1.18},{"t":2021.35,"v":1.21},{"t":2021.45,"v":1.22},{"t":2021.55,"v":1.18},{"t":2021.65,"v":1.18},{"t":2021.75,"v":1.16},{"t":2021.87,"v":1.13}
  ],
  "jpy": [
    {"t":2000.0,"v":107},{"t":2000.05,"v":106},{"t":2000.12,"v":103},{"t":2000.2,"v":108},{"t":2000.3,"v":106},{"t":2000.35,"v":109},{"t":2000.45,"v":106},{"t":2000.5,"v":108},{"t":2000.6,"v":106},{"t":2000.7,"v":109},{"t":2000.8,"v":108},{"t":2000.9,"v":110},{"t":2001.0,"v":113},{"t":2001.15,"v":116},{"t":2001.25,"v":118},{"t":2001.32,"v":126},{"t":2001.4,"v":121},{"t":2001.5,"v":124},{"t":2001.55,"v":119},{"t":2001.65,"v":125},{"t":2001.75,"v":119},{"t":2001.85,"v":121},{"t":2001.95,"v":122},{"t":2002.05,"v":125},{"t":2002.12,"v":131},{"t":2002.2,"v":133},{"t":2002.28,"v":133},{"t":2002.35,"v":127},{"t":2002.45,"v":125},{"t":2002.55,"v":120},{"t":2002.65,"v":119},{"t":2002.75,"v":122},{"t":2002.85,"v":122},{"t":2002.95,"v":119},{"t":2003.05,"v":119},{"t":2003.15,"v":118},{"t":2003.3,"v":118},{"t":2003.45,"v":119},{"t":2003.55,"v":119},{"t":2003.65,"v":116},{"t":2003.75,"v":110},{"t":2003.85,"v":109},{"t":2003.95,"v":107},{"t":2004.05,"v":106},{"t":2004.15,"v":104},{"t":2004.25,"v":109},{"t":2004.3,"v":104},{"t":2004.35,"v":110},{"t":2004.45,"v":109},{"t":2004.55,"v":111},{"t":2004.65,"v":109},{"t":2004.75,"v":110},{"t":2004.85,"v":105},{"t":2004.95,"v":103},{"t":2005.05,"v":103},{"t":2005.15,"v":105},{"t":2005.25,"v":107},{"t":2005.35,"v":104},{"t":2005.45,"v":109},{"t":2005.55,"v":112},{"t":2005.65,"v":111},{"t":2005.75,"v":113},{"t":2005.85,"v":117},{"t":2005.92,"v":120},{"t":2006.0,"v":117},{"t":2006.1,"v":118},{"t":2006.2,"v":117},{"t":2006.3,"v":113},{"t":2006.4,"v":114},{"t":2006.5,"v":116},{"t":2006.6,"v":117},{"t":2006.7,"v":116},{"t":2006.8,"v":118},{"t":2006.9,"v":117},{"t":2007.0,"v":120},{"t":2007.1,"v":119},{"t":2007.2,"v":117},{"t":2007.3,"v":119},{"t":2007.4,"v":121},{"t":2007.45,"v":123},{"t":2007.55,"v":118},{"t":2007.65,"v":116},{"t":2007.75,"v":115},{"t":2007.85,"v":111},{"t":2007.95,"v":111},{"t":2008.05,"v":107},{"t":2008.15,"v":104},{"t":2008.25,"v":102},{"t":2008.35,"v":105},{"t":2008.5,"v":107},{"t":2008.6,"v":108},{"t":2008.7,"v":105},{"t":2008.75,"v":99},{"t":2008.85,"v":95},{"t":2008.95,"v":91},{"t":2009.05,"v":90},{"t":2009.15,"v":97},{"t":2009.25,"v":98},{"t":2009.35,"v":99},{"t":2009.45,"v":96},{"t":2009.55,"v":96},{"t":2009.65,"v":91},{"t":2009.75,"v":89},{"t":2009.85,"v":86},{"t":2009.95,"v":93},{"t":2010.05,"v":90},{"t":2010.15,"v":93},{"t":2010.25,"v":91},{"t":2010.35,"v":94},{"t":2010.45,"v":88},{"t":2010.55,"v":85},{"t":2010.65,"v":84},{"t":2010.75,"v":81},{"t":2010.85,"v":83},{"t":2010.95,"v":81},{"t":2011.05,"v":84},{"t":2011.15,"v":81},{"t":2011.25,"v":82},{"t":2011.35,"v":81},{"t":2011.45,"v":80},{"t":2011.55,"v":77},{"t":2011.65,"v":77},{"t":2011.75,"v":78},{"t":2011.85,"v":77},{"t":2011.95,"v":77},{"t":2012.05,"v":76},{"t":2012.15,"v":80},{"t":2012.22,"v":83},{"t":2012.3,"v":79},{"t":2012.4,"v":79},{"t":2012.5,"v":78},{"t":2012.6,"v":78},{"t":2012.7,"v":78},{"t":2012.8,"v":80},{"t":2012.9,"v":83},{"t":2013.0,"v":89},{"t":2013.1,"v":93},{"t":2013.2,"v":93},{"t":2013.3,"v":96},{"t":2013.4,"v":100},{"t":2013.5,"v":99},{"t":2013.6,"v":98},{"t":2013.7,"v":98},{"t":2013.8,"v":99},{"t":2013.9,"v":103},{"t":2014.0,"v":105},{"t":2014.05,"v":102},{"t":2014.15,"v":102},{"t":2014.25,"v":103},{"t":2014.35,"v":102},{"t":2014.45,"v":102},{"t":2014.55,"v":102},{"t":2014.65,"v":104},{"t":2014.75,"v":109},{"t":2014.85,"v":118},{"t":2014.95,"v":120},{"t":2015.05,"v":118},{"t":2015.15,"v":120},{"t":2015.25,"v":120},{"t":2015.35,"v":121},{"t":2015.42,"v":125},{"t":2015.5,"v":124},{"t":2015.6,"v":120},{"t":2015.7,"v":120},{"t":2015.8,"v":122},{"t":2015.9,"v":121},{"t":2016.0,"v":120},{"t":2016.1,"v":114},{"t":2016.2,"v":112},{"t":2016.3,"v":106},{"t":2016.35,"v":109},{"t":2016.45,"v":103},{"t":2016.6,"v":102},{"t":2016.7,"v":102},{"t":2016.75,"v":101},{"t":2016.85,"v":105},{"t":2016.92,"v":117},{"t":2017.0,"v":113},{"t":2017.1,"v":113},{"t":2017.2,"v":111},{"t":2017.3,"v":112},{"t":2017.4,"v":111},{"t":2017.5,"v":112},{"t":2017.55,"v":110},{"t":2017.65,"v":111},{"t":2017.75,"v":114},{"t":2017.85,"v":113},{"t":2017.95,"v":112},{"t":2018.05,"v":109},{"t":2018.15,"v":106},{"t":2018.25,"v":107},{"t":2018.35,"v":110},{"t":2018.45,"v":110},{"t":2018.55,"v":111},{"t":2018.65,"v":112},{"t":2018.75,"v":114},{"t":2018.85,"v":113},{"t":2018.95,"v":111},{"t":2019.05,"v":109},{"t":2019.15,"v":111},{"t":2019.25,"v":112},{"t":2019.35,"v":110},{"t":2019.45,"v":108},{"t":2019.55,"v":107},{"t":2019.65,"v":106},{"t":2019.75,"v":108},{"t":2019.85,"v":109},{"t":2019.95,"v":109},{"t":2020.05,"v":108},{"t":2020.15,"v":107},{"t":2020.25,"v":107},{"t":2020.35,"v":107},{"t":2020.45,"v":107},{"t":2020.55,"v":106},{"t":2020.65,"v":106},{"t":2020.75,"v":105},{"t":2020.85,"v":104},{"t":2020.95,"v":103},{"t":2021.05,"v":105},{"t":2021.15,"v":107},{"t":2021.25,"v":110},{"t":2021.35,"v":109},{"t":2021.45,"v":110},{"t":2021.5,"v":111},{"t":2021.55,"v":110},{"t":2021.65,"v":110},{"t":2021.75,"v":114},{"t":2021.82,"v":113},{"t":2021.87,"v":113}
  ]
},
"vconcat": [
  {"hconcat": [
    {"title": "USDCLP", "width": 413, "height": 194, "layer": [
      {"data": {"name": "shade"}, "mark": "rect",
       "encoding": {"x": {"field": "a", "type": "quantitative", "scale": {"domain": [2000, 2021.9], "nice": false, "zero": false}, "axis": {"title": null, "values": [2000,2002,2004,2006,2008,2010,2012,2014,2016,2018,2020], "labelExpr": "slice(toString(datum.value), 2)"}}, "x2": {"field": "b"}}},
      {"data": {"name": "clp"}, "mark": "line",
       "encoding": {"x": {"field": "t", "type": "quantitative", "axis": {"title": null}}, "y": {"field": "v", "type": "quantitative", "scale": {"domain": [300, 900], "nice": false, "zero": false}, "axis": {"title": null, "values": [300,400,500,600,700,800,900], "format": "d"}}}}
    ]},
    {"title": "USDBRL", "width": 413, "height": 194, "layer": [
      {"data": {"name": "shade"}, "mark": "rect",
       "encoding": {"x": {"field": "a", "type": "quantitative", "scale": {"domain": [2000, 2021.9], "nice": false, "zero": false}, "axis": {"title": null, "values": [2000,2002,2004,2006,2008,2010,2012,2014,2016,2018,2020], "labelExpr": "slice(toString(datum.value), 2)"}}, "x2": {"field": "b"}}},
      {"data": {"name": "brl"}, "mark": "line",
       "encoding": {"x": {"field": "t", "type": "quantitative", "axis": {"title": null}}, "y": {"field": "v", "type": "quantitative", "scale": {"domain": [0, 7], "nice": false}, "axis": {"title": null, "values": [0,1,2,3,4,5,6,7], "format": ".1f"}}}}
    ]},
    {"title": "USDTRY", "width": 430, "height": 194, "layer": [
      {"data": {"name": "shade"}, "mark": "rect",
       "encoding": {"x": {"field": "a", "type": "quantitative", "scale": {"domain": [2000, 2022.85], "nice": false, "zero": false}, "axis": {"title": null, "values": [2000,2002,2004,2006,2008,2010,2012,2014,2016,2018,2020], "labelExpr": "slice(toString(datum.value), 2)"}}, "x2": {"field": "b"}}},
      {"data": {"name": "try"}, "mark": "line",
       "encoding": {"x": {"field": "t", "type": "quantitative", "axis": {"title": null}}, "y": {"field": "v", "type": "quantitative", "scale": {"domain": [0, 14], "nice": false}, "axis": {"title": null, "values": [0,2,4,6,8,10,12,14], "format": "d"}}}}
    ]}
  ], "spacing": 27},
  {"hconcat": [
    {"title": "AUDUSD", "width": 413, "height": 194, "layer": [
      {"data": {"name": "shade"}, "mark": "rect",
       "encoding": {"x": {"field": "a", "type": "quantitative", "scale": {"domain": [2000, 2021.9], "nice": false, "zero": false}, "axis": {"title": null, "values": [2000,2002,2004,2006,2008,2010,2012,2014,2016,2018,2020], "labelExpr": "slice(toString(datum.value), 2)"}}, "x2": {"field": "b"}}},
      {"data": {"name": "aud"}, "mark": "line",
       "encoding": {"x": {"field": "t", "type": "quantitative", "axis": {"title": null}}, "y": {"field": "v", "type": "quantitative", "scale": {"domain": [0.4, 1.2], "nice": false, "zero": false}, "axis": {"title": null, "values": [0.4,0.5,0.6,0.7,0.8,0.9,1.0,1.1,1.2], "format": ".1f"}}}}
    ]},
    {"title": "GBPUSD", "width": 413, "height": 194, "layer": [
      {"data": {"name": "shade"}, "mark": "rect",
       "encoding": {"x": {"field": "a", "type": "quantitative", "scale": {"domain": [2000, 2021.9], "nice": false, "zero": false}, "axis": {"title": null, "values": [2000,2002,2004,2006,2008,2010,2012,2014,2016,2018,2020], "labelExpr": "slice(toString(datum.value), 2)"}}, "x2": {"field": "b"}}},
      {"data": {"name": "gbp"}, "mark": "line",
       "encoding": {"x": {"field": "t", "type": "quantitative", "axis": {"title": null}}, "y": {"field": "v", "type": "quantitative", "scale": {"domain": [0.9, 2.3], "nice": false, "zero": false}, "axis": {"title": null, "values": [0.9,1.1,1.3,1.5,1.7,1.9,2.1,2.3], "format": ".1f"}}}}
    ]},
    {"title": "EURUSD", "width": 430, "height": 194, "layer": [
      {"data": {"name": "shade"}, "mark": "rect",
       "encoding": {"x": {"field": "a", "type": "quantitative", "scale": {"domain": [2000, 2022.85], "nice": false, "zero": false}, "axis": {"title": null, "values": [2000,2002,2004,2006,2008,2010,2012,2014,2016,2018,2020], "labelExpr": "slice(toString(datum.value), 2)"}}, "x2": {"field": "b"}}},
      {"data": {"name": "eur"}, "mark": "line",
       "encoding": {"x": {"field": "t", "type": "quantitative", "axis": {"title": null}}, "y": {"field": "v", "type": "quantitative", "scale": {"domain": [0, 1.8], "nice": false}, "axis": {"title": null, "values": [0,0.2,0.4,0.6,0.8,1.0,1.2,1.4,1.6,1.8], "format": ".1f"}}}}
    ]}
  ], "spacing": 27},
  {"hconcat": [
    {"width": 443, "height": 194, "data": {"values": [{"a": 1}]}, "mark": {"type": "point", "opacity": 0}, "encoding": {}},
    {"title": "USDJPY", "width": 413, "height": 194, "layer": [
      {"data": {"name": "shade"}, "mark": "rect",
       "encoding": {"x": {"field": "a", "type": "quantitative", "scale": {"domain": [2000, 2021.9], "nice": false, "zero": false}, "axis": {"title": null, "values": [2000,2002,2004,2006,2008,2010,2012,2014,2016,2018,2020], "labelExpr": "slice(toString(datum.value), 2)"}}, "x2": {"field": "b"}}},
      {"data": {"name": "jpy"}, "mark": "line",
       "encoding": {"x": {"field": "t", "type": "quantitative", "axis": {"title": null}}, "y": {"field": "v", "type": "quantitative", "scale": {"domain": [60, 140], "nice": false, "zero": false}, "axis": {"title": null, "values": [60,70,80,90,100,110,120,130,140], "format": "d"}}}}
    ]}
  ], "spacing": 27}
],
"spacing": 25
}
